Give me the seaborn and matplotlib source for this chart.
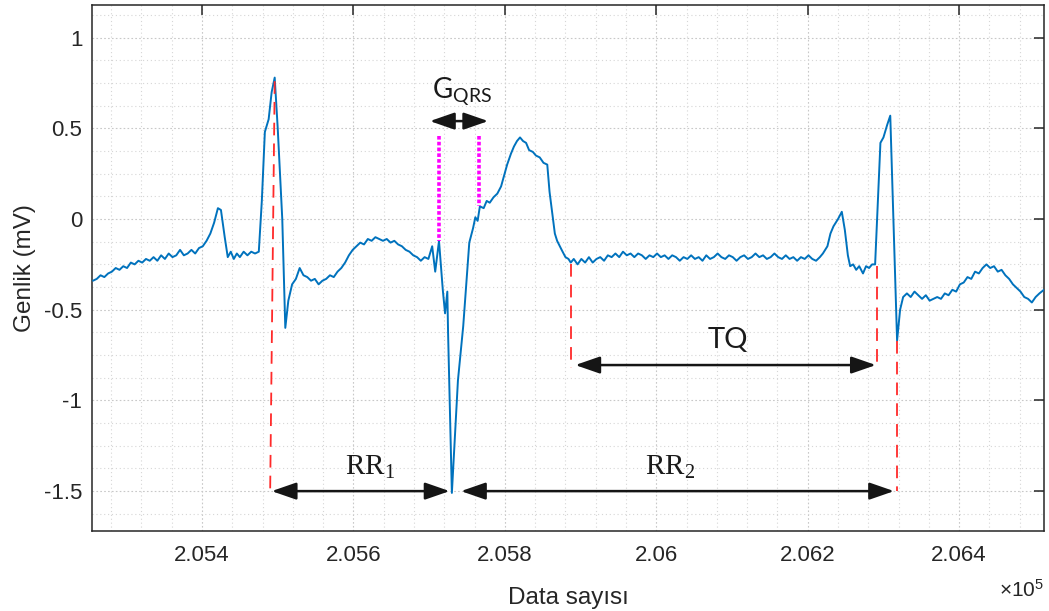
import matplotlib
matplotlib.use("Agg")
import matplotlib.pyplot as plt
from matplotlib.ticker import MultipleLocator
import pandas as pd
import seaborn as sns

# ECG trace, piece by piece: (sample number, amplitude in mV)
p_wave_1 = [
    (205256, -0.34), (205261, -0.33), (205266, -0.31), (205271, -0.32), (205276, -0.30),
    (205281, -0.29), (205286, -0.27), (205291, -0.28), (205296, -0.26), (205301, -0.27),
    (205306, -0.24), (205311, -0.25), (205316, -0.23), (205321, -0.24), (205326, -0.22),
    (205331, -0.23), (205336, -0.21), (205341, -0.23), (205346, -0.20), (205351, -0.22),
    (205356, -0.19), (205361, -0.21), (205366, -0.20), (205371, -0.17), (205376, -0.20),
    (205381, -0.19), (205386, -0.17), (205391, -0.19), (205396, -0.16), (205401, -0.15),
    (205406, -0.12), (205411, -0.08), (205416, -0.02), (205421, 0.06), (205425, 0.05),
    (205430, -0.10), (205434, -0.21), (205438, -0.18), (205442, -0.22), (205446, -0.19),
    (205450, -0.21), (205455, -0.18), (205460, -0.20), (205465, -0.18), (205470, -0.19),
    (205475, -0.18),
]
qrs_1 = [
    (205479, 0.10), (205483, 0.48), (205488, 0.55), (205492, 0.70), (205496, 0.78),
    (205500, 0.50), (205506, 0.00), (205510, -0.60), (205514, -0.45), (205519, -0.36),
]
st_t_1 = [
    (205524, -0.33), (205529, -0.27), (205534, -0.31), (205539, -0.32), (205544, -0.34),
    (205549, -0.33), (205554, -0.36), (205559, -0.34), (205564, -0.33), (205569, -0.31),
    (205574, -0.32), (205579, -0.29), (205584, -0.27), (205589, -0.24), (205594, -0.20),
    (205599, -0.17), (205604, -0.15), (205609, -0.13), (205614, -0.14), (205619, -0.11),
    (205624, -0.12), (205629, -0.10), (205634, -0.11), (205639, -0.12), (205644, -0.11),
    (205649, -0.13), (205654, -0.12), (205659, -0.14), (205664, -0.15), (205669, -0.17),
    (205674, -0.18), (205679, -0.20), (205684, -0.21), (205689, -0.23), (205694, -0.21),
    (205699, -0.22), (205704, -0.15),
]
qrs_2 = [
    (205708, -0.29), (205713, -0.12), (205718, -0.39), (205721, -0.52), (205724, -0.40),
    (205725, -0.63), (205730, -1.51), (205738, -0.89), (205745, -0.59), (205750, -0.30),
    (205753, -0.13), (205758, -0.05), (205761, 0.01), (205764, -0.01), (205767, 0.07),
]
t_wave_2 = [
    (205772, 0.06), (205776, 0.10), (205780, 0.09), (205785, 0.12), (205790, 0.14),
    (205795, 0.18), (205799, 0.24), (205803, 0.30), (205808, 0.36), (205812, 0.40),
    (205816, 0.43), (205820, 0.45), (205824, 0.43), (205828, 0.42), (205832, 0.38),
    (205837, 0.37), (205841, 0.35), (205846, 0.34), (205851, 0.31), (205856, 0.30),
    (205859, 0.15), (205862, 0.05), (205866, -0.08), (205869, -0.12), (205875, -0.17),
    (205880, -0.21), (205884, -0.22), (205887, -0.24),
]
tq_segment = [
    (205891, -0.22), (205896, -0.25), (205901, -0.22), (205906, -0.24), (205911, -0.21),
    (205916, -0.24), (205921, -0.22), (205926, -0.21), (205931, -0.23), (205936, -0.20),
    (205941, -0.21), (205946, -0.19), (205951, -0.21), (205956, -0.18), (205961, -0.20),
    (205966, -0.19), (205971, -0.21), (205976, -0.19), (205981, -0.20), (205986, -0.22),
    (205991, -0.20), (205996, -0.21), (206001, -0.19), (206006, -0.21), (206011, -0.20),
    (206016, -0.22), (206021, -0.20), (206026, -0.21), (206031, -0.23), (206036, -0.21),
    (206041, -0.22), (206046, -0.20), (206051, -0.22), (206056, -0.21), (206061, -0.23),
    (206066, -0.20), (206071, -0.22), (206076, -0.21), (206081, -0.19), (206086, -0.21),
    (206091, -0.22), (206096, -0.20), (206101, -0.21), (206106, -0.23), (206111, -0.21),
    (206116, -0.20), (206121, -0.22), (206126, -0.21), (206131, -0.19), (206136, -0.21),
    (206141, -0.20), (206146, -0.22), (206151, -0.21), (206156, -0.19), (206161, -0.21),
    (206166, -0.22), (206171, -0.20), (206176, -0.22), (206181, -0.21), (206186, -0.23),
    (206191, -0.21), (206196, -0.22), (206201, -0.20), (206206, -0.22), (206211, -0.23),
    (206216, -0.21),
]
p_wave_3 = [
    (206220, -0.19), (206226, -0.15), (206230, -0.08), (206234, -0.04), (206240, 0.00),
    (206245, 0.04), (206249, -0.06), (206253, -0.20), (206256, -0.26), (206260, -0.25),
    (206264, -0.28), (206268, -0.26), (206273, -0.30), (206277, -0.26), (206281, -0.27),
    (206285, -0.25), (206289, -0.25),
]
qrs_3 = [
    (206296, 0.42), (206300, 0.45), (206305, 0.52), (206309, 0.57), (206318, -0.67),
    (206322, -0.50), (206326, -0.43),
]
st_t_3 = [
    (206331, -0.41), (206336, -0.43), (206341, -0.40), (206346, -0.42), (206351, -0.44),
    (206356, -0.42), (206361, -0.45), (206366, -0.44), (206371, -0.43), (206376, -0.44),
    (206381, -0.41), (206386, -0.42), (206391, -0.39), (206396, -0.40), (206401, -0.36),
    (206406, -0.35), (206411, -0.32), (206416, -0.33), (206421, -0.29), (206426, -0.30),
    (206431, -0.27), (206436, -0.25), (206441, -0.27), (206446, -0.26), (206451, -0.29),
    (206456, -0.28), (206461, -0.31), (206466, -0.33), (206471, -0.36), (206476, -0.38),
    (206481, -0.40), (206486, -0.43), (206491, -0.44), (206496, -0.46), (206501, -0.43),
    (206506, -0.41), (206512, -0.39),
]

x_ticks = [205400, 205600, 205800, 206000, 206200, 206400]
x_tick_labels = ["2.054", "2.056", "2.058", "2.06", "2.062", "2.064"]
y_ticks = [1, 0.5, 0, -0.5, -1, -1.5]
y_tick_labels = ["1", "0.5", "0", "-0.5", "-1", "-1.5"]

# red dashed markers: (x top, y top, x bottom, y bottom)
red_marks = [
    (205496, 0.76, 205490, -1.5),
    (205887, -0.25, 205887, -0.82),
    (206292, -0.26, 206292, -0.82),
    (206318, -0.67, 206318, -1.5),
]
# QRS width markers: (x, y top, y bottom)
qrs_marks = [(205713, 0.46, -0.12), (205766, 0.46, 0.07)]

# interval arrows: (start, end, level)
arrows = [
    (205492, 205727, -1.5),
    (205742, 206314, -1.5),
    (205893, 206290, -0.805),
    (205701, 205778, 0.54),
]

trace = p_wave_1 + qrs_1 + st_t_1 + qrs_2 + t_wave_2 + tq_segment + p_wave_3 + qrs_3 + st_t_3
df = pd.DataFrame(trace, columns=["sample", "amplitude"])

sns.set_theme(style="white")
plt.rcParams["font.family"] = ["Liberation Sans", "DejaVu Sans"]

fig = plt.figure(figsize=(10.49, 6.11), dpi=100)
ax = fig.add_axes([0.0877, 0.1309, 0.9075, 0.8609])

sns.lineplot(data=df, x="sample", y="amplitude", ax=ax, color="#0072BD",
             linewidth=1.4, zorder=3)

for x0, y0, x1, y1 in red_marks:
    ax.plot([x0, x1], [y0, y1], color="#FF2A2A", lw=1.3,
            linestyle=(0, (7, 4.5)), zorder=4)
for x, y0, y1 in qrs_marks:
    ax.plot([x, x], [y0, y1], color="#FF00FF", lw=2.6,
            linestyle=(0, (1, 0.6)), zorder=4)

for x0, x1, y in arrows:
    ax.annotate("", xy=(x1, y), xytext=(x0, y),
                arrowprops=dict(arrowstyle="<|-|>,head_length=0.75,head_width=0.26",
                                color="#151515", lw=1.8, shrinkA=0, shrinkB=0,
                                mutation_scale=20), zorder=5)

ax.text(205622, -1.37, r"$\mathregular{RR_1}$", family="Liberation Serif",
        fontsize=21, ha="center", va="center", color="#1a1a1a")
ax.text(206018, -1.37, r"$\mathregular{RR_2}$", family="Liberation Serif",
        fontsize=21, ha="center", va="center", color="#1a1a1a")
ax.text(206095, -0.665, "TQ", family="Lato", fontsize=21,
        ha="center", va="center", color="#1a1a1a")
ax.text(205744, 0.70, r"$\mathregular{G_{QRS}}$", family="Lato", fontsize=20,
        ha="center", va="center", color="#1a1a1a")

ax.set_xlim(205254.7, 206512)
ax.set_ylim(-1.72, 1.18)
ax.set_xticks(x_ticks)
ax.set_xticklabels(x_tick_labels)
ax.set_yticks(y_ticks)
ax.set_yticklabels(y_tick_labels)
ax.xaxis.set_minor_locator(MultipleLocator(40))
ax.yaxis.set_minor_locator(MultipleLocator(0.125))

ax.grid(which="major", color="#c8c8c8", lw=0.8, linestyle=(0, (1.5, 2)))
ax.grid(which="minor", color="#d6d6d6", lw=0.8, linestyle=(0, (1, 2.5)))
ax.set_axisbelow(True)

ax.tick_params(which="major", direction="in", length=7, width=1.1,
               top=True, right=True, colors="#262626", labelsize=16)
ax.tick_params(axis="x", which="major", pad=10)
ax.tick_params(axis="y", which="major", pad=7)
ax.tick_params(which="minor", length=0)
for s in ax.spines.values():
    s.set_color("#262626")
    s.set_linewidth(1.1)

ax.set_xlabel("Data sayısı", fontsize=17.5, color="#262626", labelpad=15)
ax.set_ylabel("Genlik (mV)", fontsize=17.5, color="#262626", labelpad=6)
ax.text(1.0, -0.112, r"$\mathregular{\times10^{5}}$", transform=ax.transAxes,
        ha="right", va="center", fontsize=15, color="#262626")

fig.savefig("out.png", dpi=100)
